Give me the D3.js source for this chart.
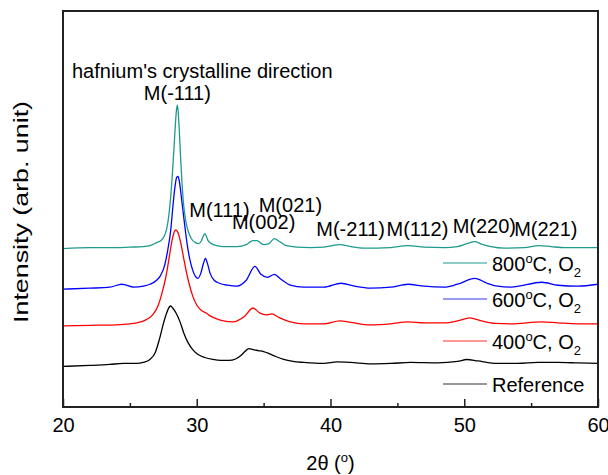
<!DOCTYPE html>
<html>
<head>
<meta charset="utf-8">
<script src="https://cdn.jsdelivr.net/npm/d3@7"></script>
<style>
  html, body { margin: 0; padding: 0; background: #fff; }
  svg text { font-family: "Liberation Sans", Arial, sans-serif; fill: #000; }
</style>
</head>
<body>
<svg id="chart" width="608" height="475"></svg>
<script>
// ---- Data (intensities in arbitrary units, stacked) ----
const xTicks = [20, 30, 40, 50, 60];
const xMinorTicks = [25, 35, 45, 55];

const theta800 = [20, 22, 24, 25, 26, 26.5, 27.0, 27.3, 27.55, 27.75, 27.9, 28.05, 28.2, 28.3, 28.4, 28.5, 28.55, 28.6, 28.7, 28.8, 28.9, 29.0, 29.15, 29.35, 29.6, 29.9, 30.15, 30.35, 30.5, 30.6, 30.7, 30.85, 31.1, 31.5, 32, 33, 33.7, 34.2, 34.5, 35, 35.4, 35.8, 36.2, 36.7, 37.5, 38.5, 39.5, 40.7, 41.5, 42.5, 43.5, 44.5, 45.8, 47, 48.5, 49.5, 50.2, 50.8, 51.3, 52, 53, 54.5, 55.6, 56.5, 57.5, 58.5, 60];
const int800   = [160, 161, 161, 161.5, 162, 163, 166, 168, 172, 180, 192, 212, 240, 262, 285, 302, 305, 300, 278, 250, 226, 207, 190, 178, 170, 166, 165, 168, 173, 175, 173, 168, 165, 163, 162, 162, 164, 168, 168, 164, 165, 170, 167, 163, 161.5, 161, 161.5, 164, 162, 160.5, 160.5, 161, 163, 161.5, 161, 162, 165, 167, 164.5, 162, 160.5, 161, 163, 162, 161, 161, 161];

const theta600 = [20, 22, 23.5, 24.4, 25.3, 26, 26.5, 27.0, 27.3, 27.6, 27.85, 28.05, 28.2, 28.35, 28.5, 28.6, 28.7, 28.85, 29.0, 29.15, 29.3, 29.5, 29.7, 29.9, 30.1, 30.3, 30.5, 30.65, 30.8, 31.0, 31.3, 31.7, 32.3, 33, 33.7, 34.35, 34.8, 35.3, 35.8, 36.3, 37, 38, 39.5, 40.8, 41.8, 43, 44.5, 45.8, 47, 48.5, 49.5, 50.8, 51.7, 52.5, 53.5, 55.8, 57, 58.5, 60];
const int600   = [119, 120, 121, 124, 121, 122, 124, 128, 133, 143, 160, 178, 200, 220, 232, 233, 228, 212, 195, 178, 163, 148, 138, 132, 130, 135, 145, 150, 145, 135, 128, 125, 123, 122, 128, 142, 134, 131, 134, 129, 123, 121, 121, 125, 122, 120, 121, 124, 122, 121, 124, 130, 125, 122, 121, 126, 123, 122, 124];

const theta400 = [20, 22, 24, 25, 25.5, 26.2, 26.7, 27.1, 27.4, 27.7, 27.95, 28.15, 28.35, 28.45, 28.6, 28.8, 29.0, 29.2, 29.4, 29.7, 30.0, 30.4, 30.7, 31.0, 31.5, 32.0, 32.7, 33.6, 34.2, 34.7, 35.2, 35.6, 36.2, 37, 38, 39.5, 40.7, 41.5, 43, 44.5, 45.8, 47, 48.5, 49.5, 50.4, 51.3, 52.3, 53.5, 55.8, 57, 58.5, 60];
const int400   = [82, 82.5, 83, 84, 85, 88, 93, 102, 115, 132, 152, 168, 178, 179, 176, 166, 152, 138, 126, 112, 103, 97, 95, 92, 89, 87, 86, 92, 100, 95, 93, 94, 90, 86, 84, 84, 87, 85.5, 83, 84, 86, 85, 85, 87, 90, 87, 84.5, 84, 86, 85, 84, 84];

const thetaRef = [20, 22, 23.5, 24.5, 25.5, 26.0, 26.5, 26.9, 27.2, 27.5, 27.75, 27.95, 28.05, 28.2, 28.45, 28.75, 29.05, 29.35, 29.7, 30.1, 30.6, 31.2, 31.8, 32.4, 32.9, 33.3, 33.6, 33.9, 34.2, 34.6, 35.0, 35.4, 35.9, 36.5, 37.2, 38, 39.5, 40.5, 41.5, 43, 44.5, 46, 48, 49.5, 50.2, 51, 52.5, 54, 55.5, 57, 58.5, 60];
const intRef   = [41, 42, 43, 44, 44, 45, 48, 55, 68, 84, 95, 101, 102, 100, 95, 86, 74, 65, 58, 53, 50, 48, 47, 47, 48.5, 52, 56, 59, 58, 57, 56, 54, 51, 48, 46, 45, 44, 45.5, 45, 43.5, 44, 45, 44.5, 46, 48, 46.5, 44, 44, 45, 45, 44.5, 44];

const seriesNames  = ["800", "600", "400", "Reference"];
const seriesColors = ["#1e9a8e", "#0000ff", "#ff0000", "#000000"];
const legendColors = ["#1e9a8e", "#9a9af2", "#ff3030", "#333333"];

const peakLabels   = ["M(-111)", "M(111)", "M(021)", "M(002)", "M(-211)", "M(112)", "M(220)", "M(221)"];
const peakLabelX   = [28.55, 31.7, 37.0, 35.0, 41.5, 46.5, 51.5, 56.1];
const peakLabelInt = [310, 192, 197, 180, 173, 173, 176, 173];

// ---- Layout ----
const svg = d3.select("#chart");
const margin = {left: 63, right: 10, top: 11, bottom: 68};
const W = 608, H = 475;
const x = d3.scaleLinear().domain([20, 60]).range([margin.left, W - margin.right]);
const y = d3.scaleLinear().domain([0, 400]).range([H - margin.bottom, margin.top]);

const series = [
  {theta: theta800, val: int800},
  {theta: theta600, val: int600},
  {theta: theta400, val: int400},
  {theta: thetaRef, val: intRef}
];

const line = d3.line().x(d => x(d[0])).y(d => y(d[1])).curve(d3.curveMonotoneX);

series.slice().reverse().forEach((s, ri) => {
  const i = series.length - 1 - ri;
  const pts = s.theta.map((t, k) => [t, s.val[k]]);
  svg.append("path").datum(pts)
    .attr("d", line)
    .attr("fill", "none")
    .attr("stroke", seriesColors[i])
    .attr("stroke-width", 1.3)
    .attr("stroke-linejoin", "round");
});

// frame
svg.append("rect")
  .attr("x", x(20)).attr("y", y(400))
  .attr("width", x(60) - x(20)).attr("height", y(0) - y(400))
  .attr("fill", "none").attr("stroke", "#222").attr("stroke-width", 2);

// bottom axis with inward ticks
const axis = d3.axisBottom(x).tickValues(xTicks).tickSizeInner(-8).tickSizeOuter(0).tickPadding(11);
const gAx = svg.append("g").attr("transform", `translate(0,${y(0)})`).call(axis);
gAx.select(".domain").remove();
gAx.selectAll("line").attr("stroke", "#222").attr("stroke-width", 1.5);
gAx.selectAll("text").attr("font-size", 20).attr("font-family", "Liberation Sans, Arial, sans-serif").attr("fill", "#000");
const axisMinor = d3.axisBottom(x).tickValues(xMinorTicks).tickSizeInner(-4).tickSizeOuter(0).tickFormat("");
const gMin = svg.append("g").attr("transform", `translate(0,${y(0)})`).call(axisMinor);
gMin.select(".domain").remove();
gMin.selectAll("line").attr("stroke", "#222").attr("stroke-width", 1.5);

// axis titles
const xt = svg.append("text").attr("x", (x(20) + x(60)) / 2).attr("y", 470)
  .attr("text-anchor", "middle").attr("font-size", 20);
xt.append("tspan").text("2θ (");
xt.append("tspan").attr("font-size", 13).attr("dy", -8).text("o");
xt.append("tspan").attr("dy", 8).text(")");

svg.append("text")
  .attr("transform", `translate(28,212) rotate(-90)`)
  .attr("text-anchor", "middle").attr("font-size", 21)
  .attr("textLength", 222).attr("lengthAdjust", "spacingAndGlyphs")
  .text("Intensity (arb. unit)");

// annotation title
svg.append("text").attr("x", 72).attr("y", 78).attr("font-size", 20)
  .text("hafnium's crystalline direction");

// peak labels
peakLabels.forEach((lab, i) => {
  svg.append("text")
    .attr("x", x(peakLabelX[i])).attr("y", y(peakLabelInt[i]))
    .attr("text-anchor", "middle").attr("font-size", 20)
    .text(lab);
});

// legend
const legendY = [263, 299, 341, 384];
seriesNames.forEach((name, i) => {
  const ly = legendY[i];
  svg.append("line").attr("x1", 443).attr("x2", 487).attr("y1", ly).attr("y2", ly)
    .attr("stroke", legendColors[i]).attr("stroke-width", i === 1 ? 2 : 1.2);
  const t = svg.append("text").attr("x", 492).attr("y", ly + 8).attr("font-size", 20);
  if (name === "Reference") {
    t.text("Reference");
  } else {
    t.append("tspan").text(name);
    t.append("tspan").attr("font-size", 13).attr("dy", -8).text("o");
    t.append("tspan").attr("dy", 8).text("C, O");
    t.append("tspan").attr("font-size", 13).attr("dy", 6).text("2");
  }
});
</script>
</body>
</html>
